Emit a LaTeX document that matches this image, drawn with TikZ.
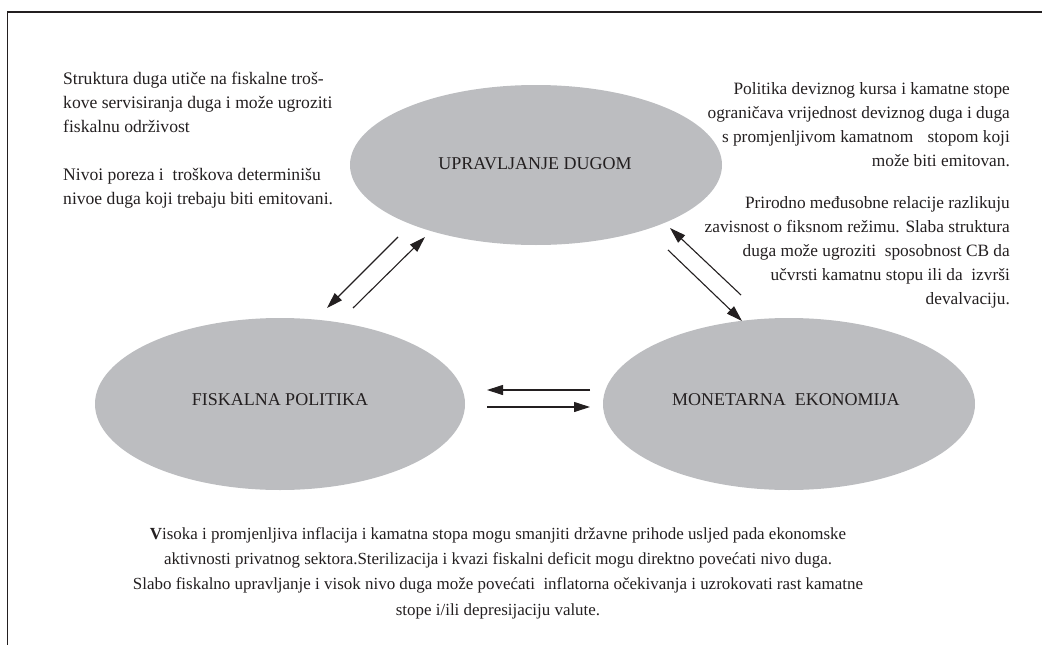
\documentclass[tikz,border=0pt]{standalone}
\usepackage{fontspec}
\setmainfont{Liberation Serif}
\usetikzlibrary{shapes.geometric,arrows.meta}
\definecolor{ellgray}{RGB}{188,189,192}
\definecolor{txt}{RGB}{35,31,32}
\begin{document}
\begin{tikzpicture}[x=1pt,y=-1pt,
  ell/.style={ellipse, fill=ellgray, inner sep=0pt},
  elltext/.style={inner sep=0pt, text=txt, font=\fontsize{18}{20}\selectfont},
  body/.style={inner sep=0pt, text=txt, font=\fontsize{17.6}{24}\selectfont},
  bodyr/.style={inner sep=0pt, text=txt, font=\fontsize{17.3}{24}\selectfont},
  bottomtext/.style={inner sep=0pt, text=txt, align=center, font=\fontsize{16.95}{25.3}\selectfont},
  arr/.style={-{Triangle[length=16pt,width=10pt]}, line width=1.1pt, draw=txt},
  frame/.style={line width=1.4pt, draw=txt}]
\useasboundingbox (0,0) rectangle (1042,645);
\coordinate (fbl) at (7.5,645);
\coordinate (ftl) at (7.5,12);
\coordinate (ftr) at (1042,12);
\draw[frame] (fbl) -- (ftl) -- (ftr);

\node[ell, minimum width=372pt, minimum height=160pt] (debt) at (536,165) {};
\node[ell, minimum width=370pt, minimum height=172pt] (fisc) at (280,404) {};
\node[ell, minimum width=372pt, minimum height=172pt] (mon) at (789,404) {};
\node[elltext] (debtl) at (535,164) {UPRAVLJANJE DUGOM};
\node[elltext] (fiscl) at (280,400) {FISKALNA POLITIKA};
\node[elltext] (monl) at (786,400) {MONETARNA\ \ EKONOMIJA};

\node[body, align=left, anchor=north west] (lt1) at (63,72) {Struktura duga utiče na fiskalne troš-\\kove servisiranja duga i može ugroziti\\fiskalnu održivost};
\node[body, align=left, anchor=north west] (lt2) at (63,167.6) {Nivoi poreza i\ \ troškova determinišu\\nivoe duga koji trebaju biti emitovani.};

\node[bodyr, align=right, anchor=north east] (rt1) at (1010,82.3) {Politika deviznog kursa i kamatne stope\\ograničava vrijednost deviznog duga i duga\\s promjenljivom kamatnom\hspace{10pt} stopom koji\\može biti emitovan.};
\node[bodyr, align=right, anchor=north east] (rt2) at (1010,196.3) {Prirodno međusobne relacije razlikuju\\zavisnost o fiksnom režimu. Slaba struktura\\duga može ugroziti\ \ sposobnost CB da\\učvrsti kamatnu stopu ili da\ \ izvrši\\devalvaciju.};

\node[bottomtext, anchor=north] (bt) at (498,527) {\textbf{V}isoka i promjenljiva inflacija i kamatna stopa mogu smanjiti državne prihode usljed pada ekonomske\\aktivnosti privatnog sektora.Sterilizacija i kvazi fiskalni deficit mogu direktno povećati nivo duga.\\Slabo fiskalno upravljanje i visok nivo duga može povećati\ \ inflatorna očekivanja i uzrokovati rast kamatne\\stope i/ili depresijaciju valute.};

\coordinate (a1s) at (398,237); \coordinate (a1e) at (327,308);
\coordinate (a2s) at (353,308); \coordinate (a2e) at (425,237);
\coordinate (a3s) at (741,295); \coordinate (a3e) at (670,228);
\coordinate (a4s) at (668,250); \coordinate (a4e) at (742,321);
\coordinate (a5s) at (590,390); \coordinate (a5e) at (487,390);
\coordinate (a6s) at (487,407); \coordinate (a6e) at (590,407);
\draw[arr] (a1s) -- (a1e);
\draw[arr] (a2s) -- (a2e);
\draw[arr] (a3s) -- (a3e);
\draw[arr] (a4s) -- (a4e);
\draw[arr] (a5s) -- (a5e);
\draw[arr] (a6s) -- (a6e);
\end{tikzpicture}
\end{document}
